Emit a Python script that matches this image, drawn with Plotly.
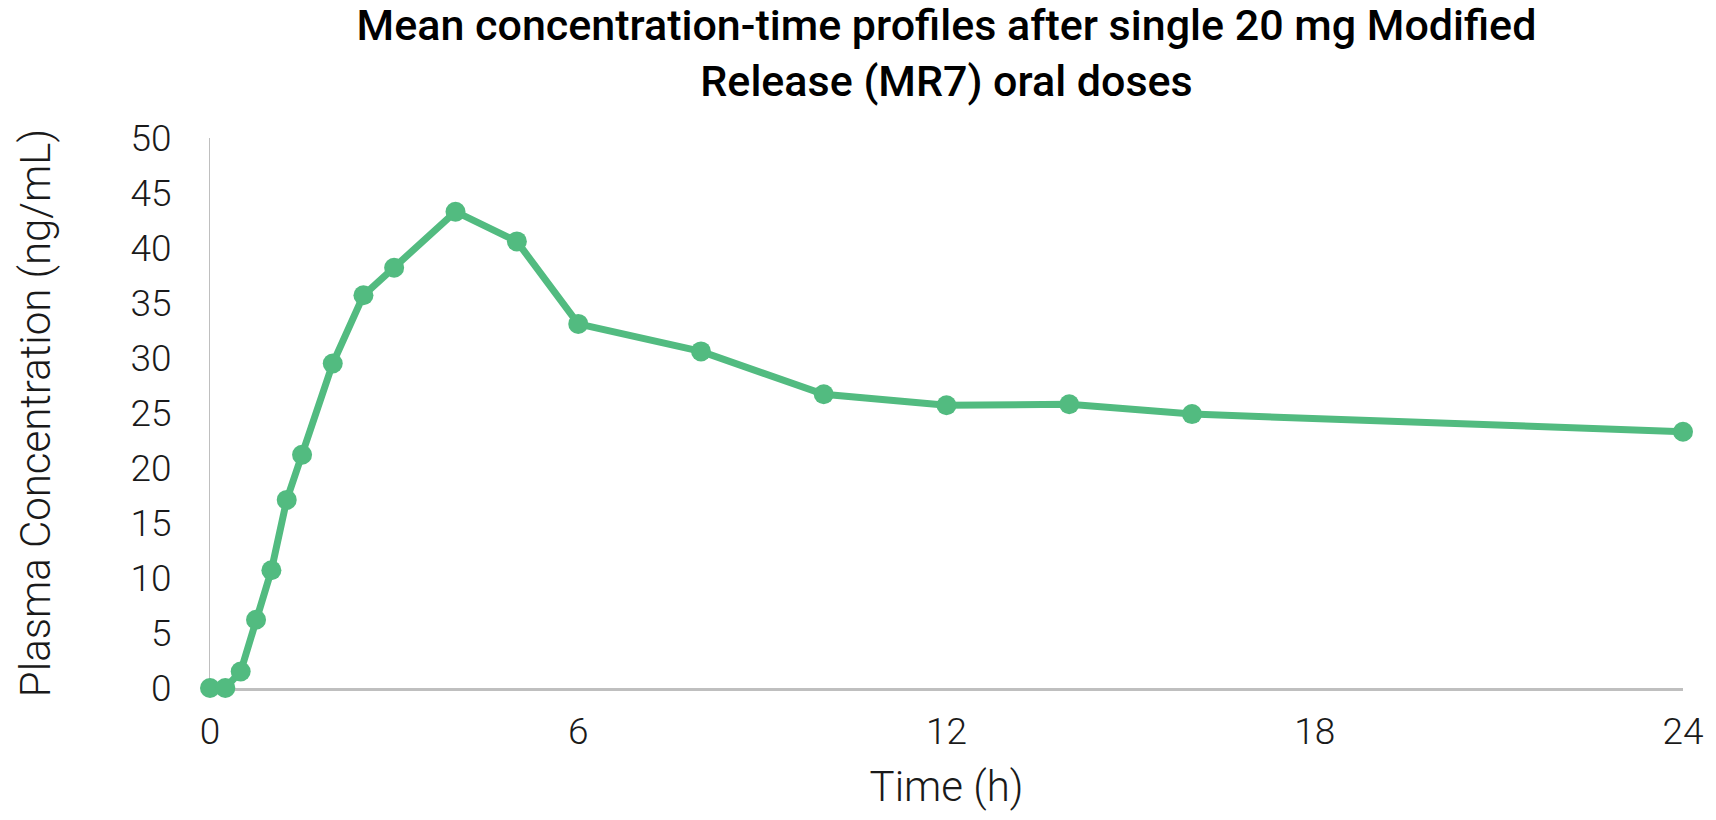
import plotly.graph_objects as go

# Sampling times (h) and mean plasma concentrations (ng/mL)
time_h = [0, 0.25, 0.5, 0.75, 1, 1.25, 1.5, 2, 2.5, 3, 4, 5, 6, 8, 10, 12, 14, 16, 24]
conc_ng_ml = [0, 0, 1.5, 6.2, 10.7, 17.1, 21.2, 29.5, 35.7, 38.2, 43.3, 40.6,
              33.1, 30.6, 26.7, 25.7, 25.8, 24.9, 23.3]

x_ticks = [0, 6, 12, 18, 24]
y_ticks = [0, 5, 10, 15, 20, 25, 30, 35, 40, 45, 50]

green = "rgb(82,187,128)"
axis_grey = "#BFBFBF"
text_col = "#1a1a1a"

fig = go.Figure(
    go.Scatter(
        x=time_h,
        y=conc_ng_ml,
        mode="lines+markers",
        line=dict(color=green, width=7),
        marker=dict(color=green, size=20),
        cliponaxis=False,
        showlegend=False,
    )
)

fig.update_layout(
    width=1716,
    height=820,
    margin=dict(l=210, r=29, t=138, b=132),
    paper_bgcolor="white",
    plot_bgcolor="white",
    font=dict(family="Roboto Light, Roboto", color=text_col, size=37),
    title=dict(
        text="Mean concentration-time profiles after single 20 mg Modified<br>Release (MR7) oral doses",
        font=dict(family="Roboto", size=43, color="black", weight=500),
        x=0.5,
        xref="paper",
        xanchor="center",
        y=0.951,
        yanchor="middle",
    ),
    xaxis=dict(
        range=[0, 24],
        tickvals=x_ticks,
        ticktext=[str(v) for v in x_ticks],
        showline=True,
        linecolor=axis_grey,
        linewidth=2.5,
        showgrid=False,
        zeroline=False,
        ticks="",
        ticklabelstandoff=9,
        layer="below traces",
        title=dict(text="Time (h)", standoff=20, font=dict(size=42)),
    ),
    yaxis=dict(
        range=[0, 50],
        tickvals=y_ticks,
        ticktext=[str(v) for v in y_ticks],
        showline=True,
        linecolor=axis_grey,
        linewidth=1.2,
        showgrid=False,
        zeroline=False,
        ticks="",
        ticklabelstandoff=30,
        layer="below traces",
        title=dict(text="Plasma Concentration (ng/mL)", standoff=66, font=dict(size=42)),
    ),
)

fig.write_html("out.html")
